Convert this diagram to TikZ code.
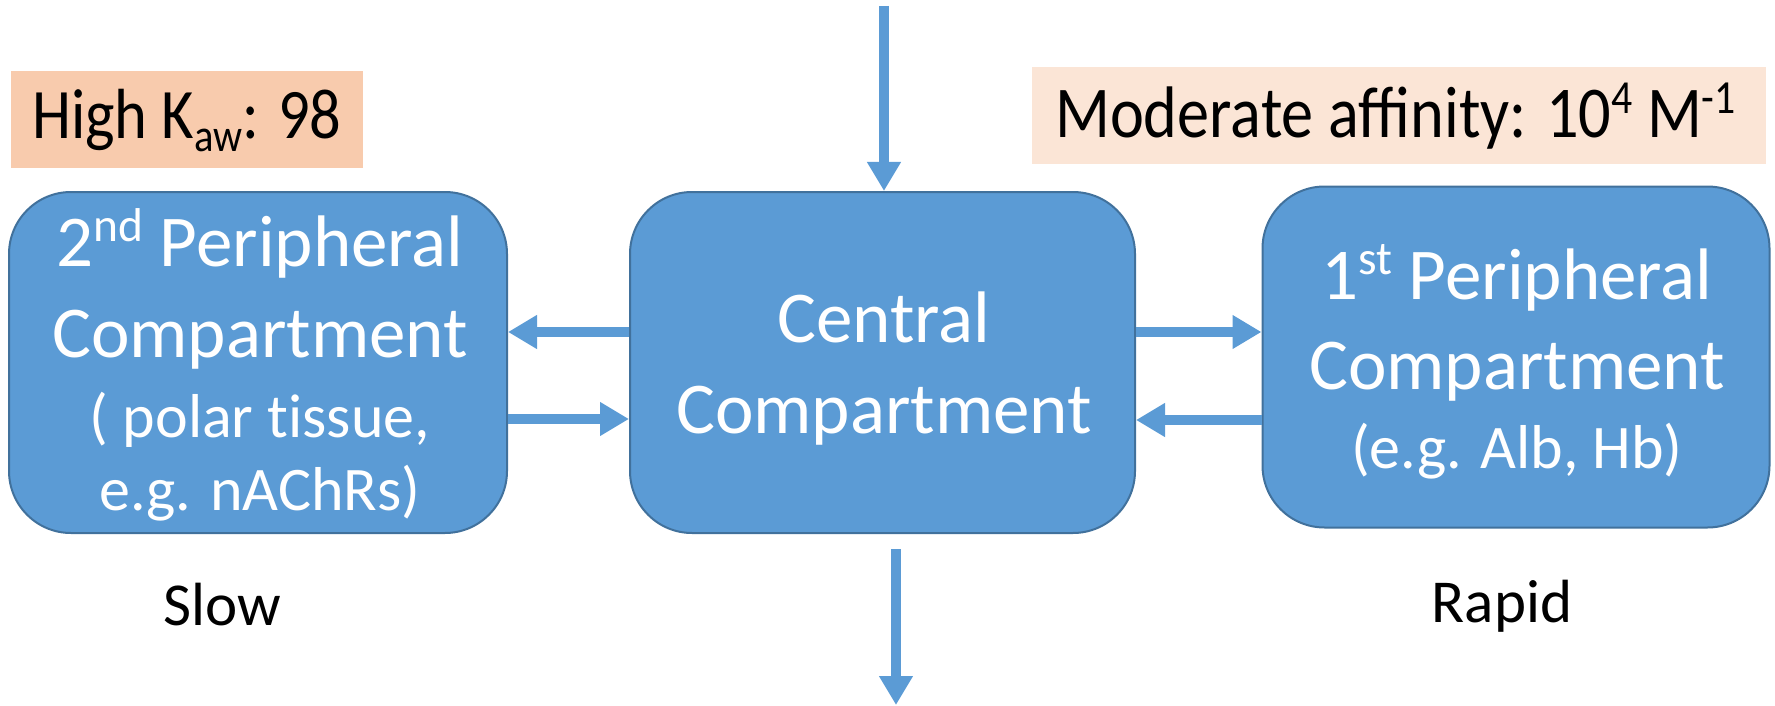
\documentclass[tikz,border=0pt]{standalone}
\usepackage{fontspec}
\usepackage{graphicx}
\setmainfont{Carlito}
\newfontfamily\labfont{Carlito}[FakeStretch=0.88]
\usetikzlibrary{arrows.meta}
\definecolor{boxblue}{HTML}{5B9BD5}
\definecolor{boxedge}{HTML}{41719C}
\definecolor{peachA}{HTML}{F8CBAD}
\definecolor{peachB}{HTML}{FBE5D6}
\newcommand{\supx}[1]{\raisebox{0.34em}{\scalebox{0.65}{#1}}}
\newcommand{\subx}[1]{\raisebox{-0.18em}{\scalebox{0.65}{#1}}}
\newcommand{\lsize}{\fontsize{62}{91}\selectfont}
\setlength{\tabcolsep}{0pt}
\tikzset{
  comp/.style={draw=boxedge, line width=2pt, fill=boxblue, rounded corners=62pt,
    inner sep=0pt},
  comptext/.style={text=white, inner sep=0pt, anchor=base,
    font=\fontsize{73}{91}\selectfont},
  tagbg/.style={inner sep=0pt, anchor=north west},
  tag/.style={inner sep=0pt, anchor=base west},
  flow/.style={draw=boxblue, line width=10pt,
    -{Triangle[length=29pt,width=32pt]}},
  rate/.style={font=\fontsize{61}{70}\selectfont, inner sep=0pt, anchor=base}
}
\begin{document}
\begin{tikzpicture}[x=1pt,y=1pt]
\useasboundingbox (0,0) rectangle (1775,-706);
% label backgrounds
\node[tagbg, fill=peachA, minimum width=352pt, minimum height=97pt] (kawbg) at (11,-71) {};
\node[tag, font=\labfont\fontsize{71}{80}\selectfont] (kaw) at (32,-139) {High K\subx{aw}: 98};
\node[tagbg, fill=peachB, minimum width=734pt, minimum height=97pt] (affbg) at (1032,-67) {};
\node[tag, font=\labfont\fontsize{73}{80}\selectfont] (aff) at (1055,-138)
  {Moderate affinity: 10\supx{4} M\supx{-1}};
% compartments
\node[comp, minimum width=498pt, minimum height=341pt] (left) at (258,-362.5) {};
\node[comp, minimum width=505pt, minimum height=341pt] (central) at (882.5,-362.5) {};
\node[comp, minimum width=507pt, minimum height=341pt] (right) at (1516,-357) {};
\node[comptext] (lefttext) at (260,-266)
  {\begin{tabular}[t]{c}2\supx{nd} Peripheral\\Compartment\\[-11pt]
   {\lsize ( polar t\kern0pt issue,}\\[-18pt]{\lsize e.g. nAChRs)}\end{tabular}};
\node[comptext] (centraltext) at (884,-342)
  {\begin{tabular}[t]{c}Central\\Compartment\end{tabular}};
\node[comptext] (righttext) at (1517,-299)
  {\begin{tabular}[t]{c}1\supx{st} Peripheral\\[-1pt]Compartment\\[-12pt]
   {\lsize (e.g. Alb, Hb)}\end{tabular}};
% rate labels
\node[rate] (slow) at (222,-625) {Slow};
\node[rate] (rapid) at (1502,-622) {Rapid};
% vertical arrows
\coordinate (intop) at (884,-6);
\coordinate (outstart) at (896,-549);
\coordinate (outend) at (896,-705);
\draw[flow] (intop) -- (intop |- central.north);
\draw[flow] (outstart) -- (outend);
% horizontal arrows
\draw[flow] (central.west |- 0,-332) -- (left.east |- 0,-332);
\draw[flow] (left.east |- 0,-419) -- (central.west |- 0,-419);
\draw[flow] (central.east |- 0,-332) -- (right.west |- 0,-332);
\draw[flow] (right.west |- 0,-420) -- (central.east |- 0,-420);
\end{tikzpicture}
\end{document}
